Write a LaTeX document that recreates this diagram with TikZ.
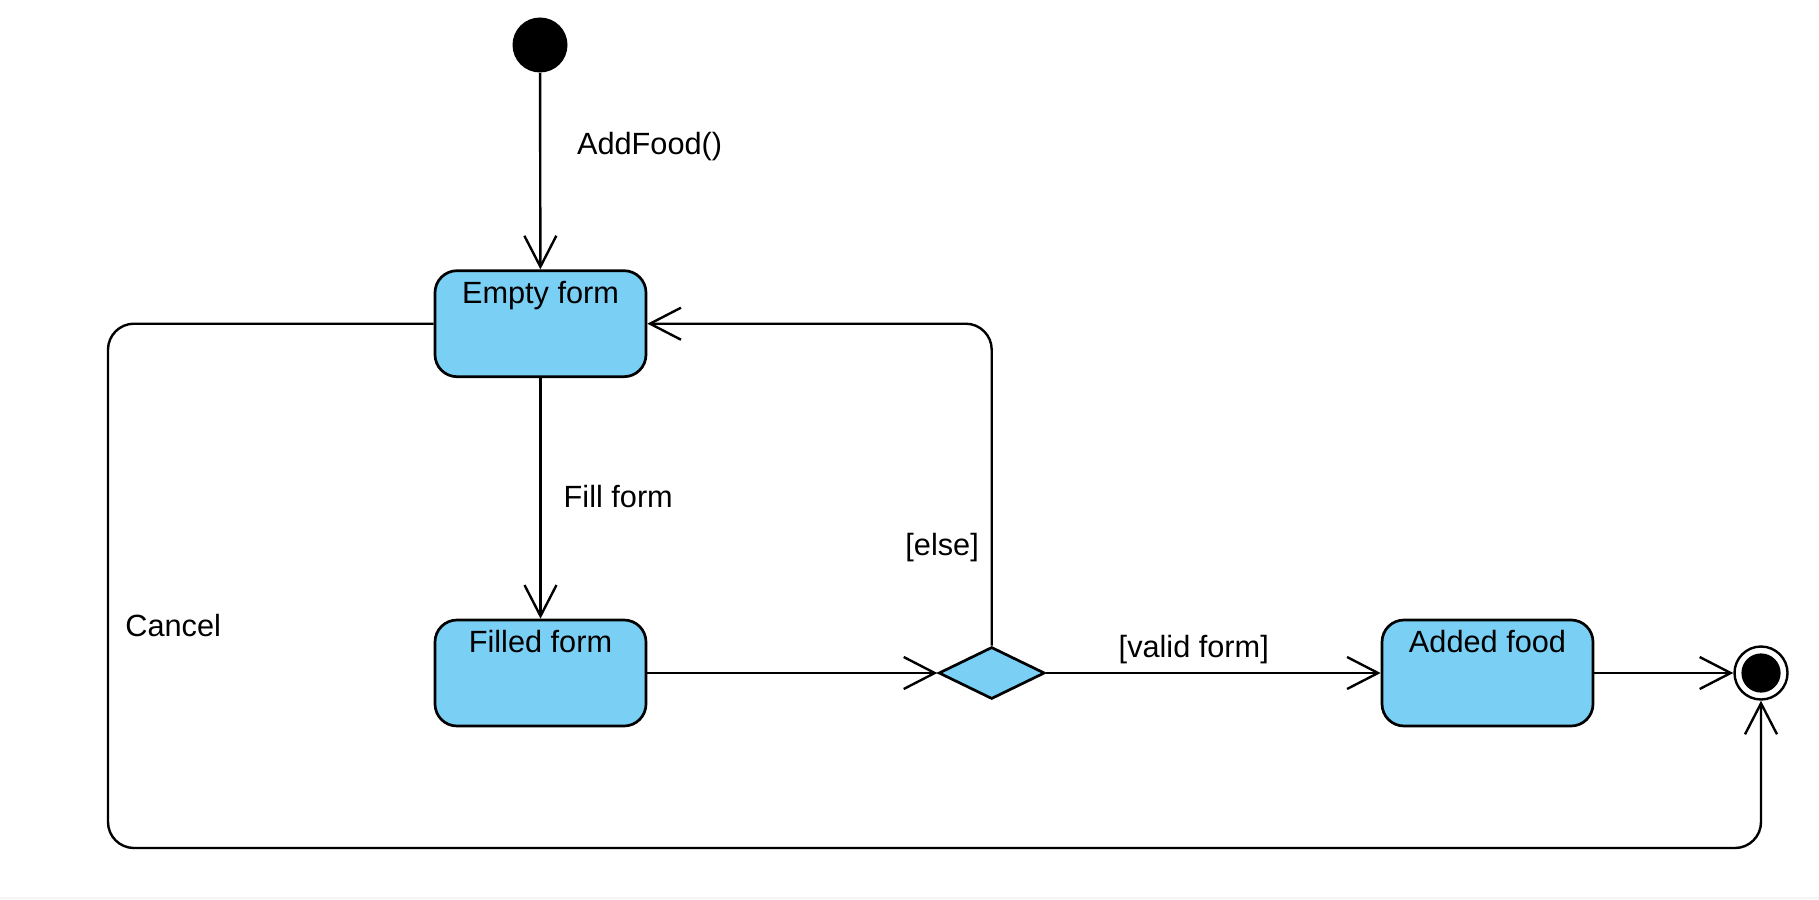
\documentclass[tikz,border=0pt]{standalone}
\usepackage{fontspec}
\setmainfont{Liberation Sans}
\usepackage{tikz}
\usetikzlibrary{arrows.meta,shapes.geometric}
\definecolor{stateblue}{RGB}{122,207,244}

\begin{document}
\begin{tikzpicture}
    [   x=0.5pt, y=-0.5pt
    ,   font=\fontsize{15.35pt}{18pt}\selectfont
    ,   state/.style=
        {   draw
        ,   fill=stateblue
        ,   line width=1.35pt
        ,   rounded corners=11pt
        ,   minimum width=105.5pt
        ,   minimum height=53pt
        ,   inner sep=0pt
        }
    ,   title/.style=
        {   label={[anchor=base, yshift=-17pt, inner sep=0pt]north:#1}
        }
    ,   initial/.style=
        {   circle
        ,   fill=black
        ,   minimum size=27.5pt
        ,   inner sep=0pt
        }
    ,   final/.style=
        {   circle
        ,   draw
        ,   fill=white
        ,   line width=1.2pt
        ,   minimum size=26.5pt
        ,   inner sep=0pt
        ,   path picture={\fill[black] (path picture bounding box.center) circle (9.8pt);}
        }
    ,   choice/.style=
        {   diamond
        ,   draw
        ,   fill=stateblue
        ,   line width=1.35pt
        ,   minimum width=53pt
        ,   minimum height=26pt
        ,   inner sep=0pt
        }
    ,   guard/.style=
        {   anchor=base west
        ,   inner sep=0pt
        }
    ,   trans/.style=
        {   line width=1.2pt
        ,   -{Straight Barb[length=15.5pt, width=16pt]}
        }
    ]
    \useasboundingbox (0,0) rectangle (1819,899);
    \fill[black!4] (0,897) rectangle (1819,899);

    % states
    \node[initial] (init) at (540,45) {};
    \node[state, title={Empty form}] (empty) at (540.5,323.7) {};
    \node[state, title={Filled form}] (filled) at (540.5,673) {};
    \node[choice] (dec) at (991.7,673) {};
    \node[state, title={Added food}] (added) at (1487.5,673) {};
    \node[final] (fin) at (1761,673) {};
    \coordinate (cancelcorner) at (108,848);

    % transitions
    \draw[trans] (init) -- (empty);
    \draw[trans] (empty) -- (filled);
    \foreach\a/\b in {filled/dec,dec/added,added/fin}
    {   \draw[trans] (\a) -- (\b);
    }
    \draw[trans, rounded corners=13pt]
    (dec.north) |- (empty.east);
    \draw[trans, rounded corners=13pt]
    (empty.west) -| (cancelcorner) -| (fin.south);

    % labels
    \node[guard] (lbladd) at (576.7,155) {AddFood()};
    \node[guard] (lblfill) at (563.3,507.3) {Fill form};
    \node[guard] (lblelse) at (905,555) {[else]};
    \node[guard] (lblvalid) at (1118.3,657.5) {[valid form]};
    \node[guard] (lblcancel) at (125,636.7) {Cancel};
\end{tikzpicture}
\end{document}
